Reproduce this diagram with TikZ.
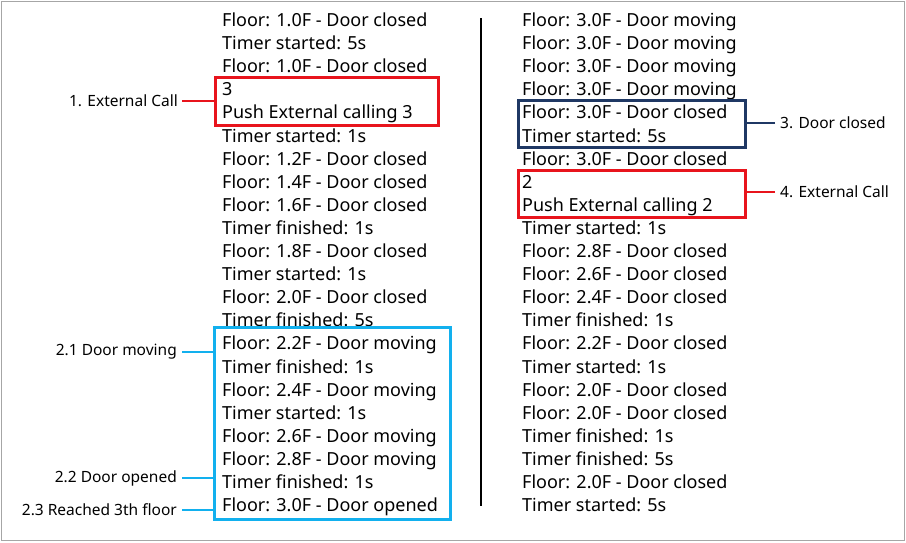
\documentclass[tikz,border=0pt]{standalone}
\usepackage{fontspec}
\setmainfont{Noto Sans}
\usetikzlibrary{fit,calc}
\definecolor{callred}{HTML}{E8141C}
\definecolor{movecyan}{HTML}{12B0EE}
\definecolor{closednavy}{HTML}{1F3864}
\tikzset{
  logline/.style={anchor=base west,inner sep=0pt,font=\fontsize{18}{18}\selectfont},
  tag/.style={inner sep=0pt,font=\fontsize{15.5}{15.5}\selectfont},
  markbox/.style={draw,line width=3pt,inner sep=0pt},
  tagline/.style={line width=1.5pt}
}
\begin{document}
\begin{tikzpicture}[x=1pt,y=-1pt]
\useasboundingbox (0,0) rectangle (906,542);
\draw[gray!70] (1,1) rectangle (904,540);
% left log
\foreach \txt [count=\i] in {
  Floor: 1.0F - Door closed, Timer started: 5s, Floor: 1.0F - Door closed, 3,
  Push External calling 3, Timer started: 1s, Floor: 1.2F - Door closed,
  Floor: 1.4F - Door closed, Floor: 1.6F - Door closed, Timer finished: 1s,
  Floor: 1.8F - Door closed, Timer started: 1s, Floor: 2.0F - Door closed,
  Timer finished: 5s, Floor: 2.2F - Door moving, Timer finished: 1s,
  Floor: 2.4F - Door moving, Timer started: 1s, Floor: 2.6F - Door moving,
  Floor: 2.8F - Door moving, Timer finished: 1s, Floor: 3.0F - Door opened}
  \node[logline] (L\i) at (222,{26.5+(\i-1)*23.1}) {\txt};
% right log
\foreach \txt [count=\i] in {
  Floor: 3.0F - Door moving, Floor: 3.0F - Door moving, Floor: 3.0F - Door moving,
  Floor: 3.0F - Door moving, Floor: 3.0F - Door closed, Timer started: 5s,
  Floor: 3.0F - Door closed, 2, Push External calling 2, Timer started: 1s,
  Floor: 2.8F - Door closed, Floor: 2.6F - Door closed, Floor: 2.4F - Door closed,
  Timer finished: 1s, Floor: 2.2F - Door closed, Timer started: 1s,
  Floor: 2.0F - Door closed, Floor: 2.0F - Door closed, Timer finished: 1s,
  Timer finished: 5s, Floor: 2.0F - Door closed, Timer started: 5s}
  \node[logline] (R\i) at (522,{26.5+(\i-1)*23.1}) {\txt};
\draw[line width=1.5pt] (481,18) -- (481,506);
% boxes
\node[markbox,callred,fit={(215,77) (438,125)}] (call3) {};
\node[markbox,movecyan,fit={(214,327) (450,519)}] (moving) {};
\node[markbox,closednavy,fit={(518,100) (745,147)}] (closed) {};
\node[markbox,callred,fit={(518,170) (745,217)}] (call2) {};
% tags
\node[tag,anchor=east] (t1) at (178,101) {1. External Call};
\node[tag,anchor=east] (t21) at (177,352) {2.1 Door moving};
\node[tag,anchor=east] (t22) at (177,478) {2.2 Door opened};
\node[tag,anchor=east] (t23) at (177,510) {2.3 Reached 3th floor};
\node[tag,anchor=west] (t3) at (780,123) {3. Door closed};
\node[tag,anchor=west] (t4) at (780,192) {4. External Call};
\draw[tagline,callred] ([xshift=4pt]t1.east) -- (call3.west|-t1);
\draw[tagline,movecyan] ([xshift=5pt]t21.east) -- (moving.west|-t21);
\draw[tagline,movecyan] ([xshift=5pt]t22.east) -- (moving.west|-t22);
\draw[tagline,movecyan] ([xshift=5pt]t23.east) -- (moving.west|-t23);
\draw[tagline,closednavy] ([xshift=-5pt]t3.west) -- (closed.east|-t3);
\draw[tagline,callred] ([xshift=-5pt]t4.west) -- (call2.east|-t4);
\end{tikzpicture}
\end{document}
